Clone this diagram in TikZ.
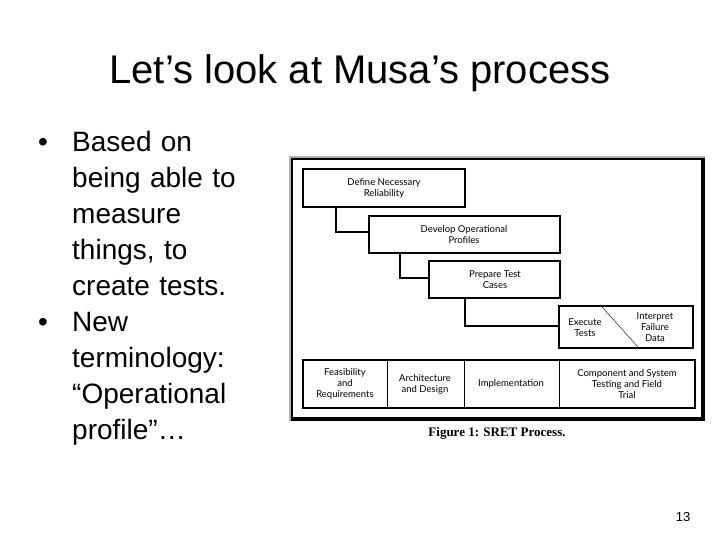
\documentclass[tikz,border=0pt]{standalone}
\usepackage{fontspec}
\setmainfont{Liberation Sans}
\newfontfamily\gill{Lato}
\newfontfamily\capfont{Liberation Serif}
\begin{document}
\begin{tikzpicture}[x=1pt,y=-1pt,
  bx/.style={draw,line width=2pt},
  lbl/.style={font=\gill\fontsize{9.5}{11}\selectfont,align=center,inner sep=0},
  con/.style={line width=2pt}]
\useasboundingbox (0,0) rectangle (720,540);
\node[font=\fontsize{40}{44}\selectfont,anchor=base] (title) at (360,84) {Let’s look at Musa’s process};
\node[font=\fontsize{28}{36}\selectfont,anchor=north west,align=left,inner sep=0,text width=220pt] (bul) at (38,131)
 {\makebox[34pt][l]{•}Based on\\ \hspace*{34pt}being able to\\ \hspace*{34pt}measure\\ \hspace*{34pt}things, to\\ \hspace*{34pt}create tests.\\
 \makebox[34pt][l]{•}New\\ \hspace*{34pt}terminology:\\ \hspace*{34pt}“Operational\\ \hspace*{34pt}profile”…};
\node[font=\fontsize{13}{15}\selectfont] (num) at (683,517) {13};
% frame
\fill[gray!60] (289,156) rectangle (705,421);
\fill[black] (291,158) rectangle (705,421);
\fill[white] (293,160) rectangle (701,417);
% boxes
\draw[con] (336,207) |- (369,232);
\draw[con] (400,253) |- (429,278);
\draw[con] (465,298) |- (559,326);
\draw[bx,fill=white] (303,169) rectangle (465,207);
\node[lbl] (b1) at (384,188) {Define Necessary\\Reliability};
\draw[bx,fill=white] (369,216) rectangle (560,253);
\node[lbl] (b2) at (464,235) {Develop Operational\\Profiles};
\draw[bx,fill=white] (429,261) rectangle (560,298);
\node[lbl] (b3) at (495,280) {Prepare Test\\Cases};
\draw[bx,fill=white] (559,306) rectangle (693,348);
\draw (602,307) -- (638,347);
\node[lbl] (b4a) at (585,328) {Execute\\Tests};
\node[lbl] (b4b) at (655,327) {Interpret\\Failure\\Data};
\draw[bx] (303,360) rectangle (695,408);
\draw[line width=1pt] (387,360) -- (387,408) (464,360) -- (464,408) (559,360) -- (559,408);
\node[lbl] (c1) at (345,384) {Feasibility\\and\\Requirements};
\node[lbl] (c2) at (425,384) {Architecture\\and Design};
\node[lbl] (c3) at (511,384) {Implementation};
\node[lbl] (c4) at (627,384) {Component and System\\Testing and Field\\Trial};
\node[font=\capfont\bfseries\fontsize{13}{15}\selectfont] (cap) at (497,433) {Figure 1: SRET Process.};
\end{tikzpicture}
\end{document}
